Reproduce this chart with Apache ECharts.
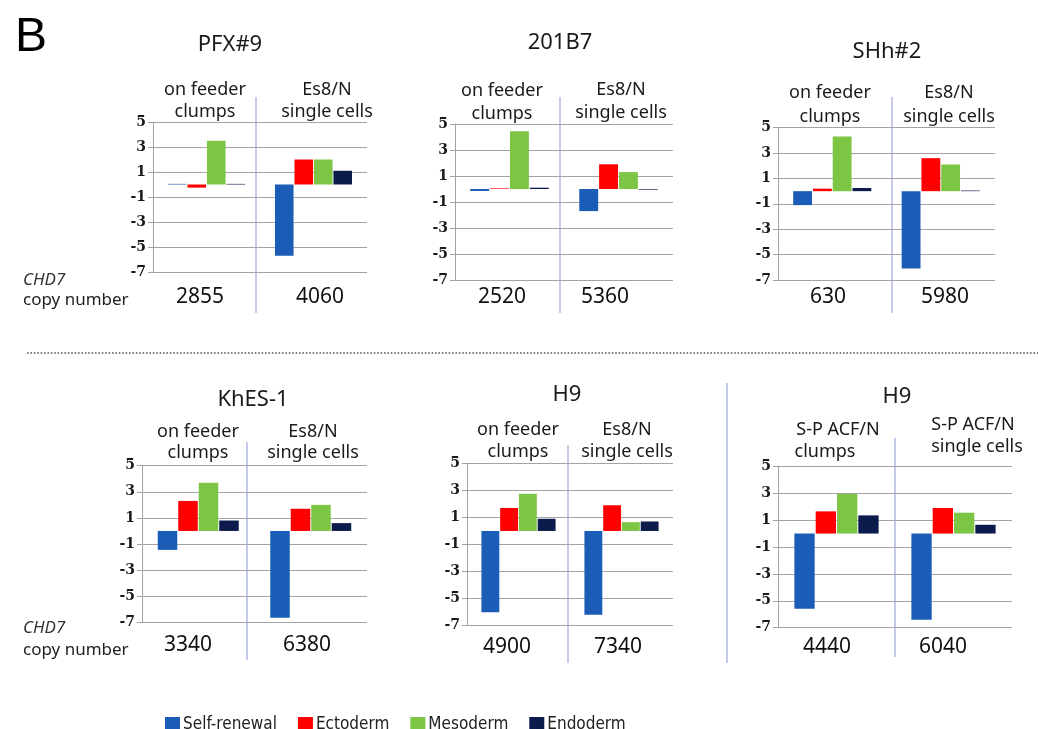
<!DOCTYPE html>
<html>
<head>
<meta charset="utf-8">
<title>CHD7 copy number and lineage marker expression</title>
<script src="https://cdn.jsdelivr.net/npm/echarts@6/dist/echarts.min.js"></script>
<style>
  html, body { margin: 0; padding: 0; background: #fff; }
  #chart { width: 1038px; height: 729px; }
</style>
</head>
<body>
<div id="chart"></div>
<script>
// ---- data ----
const lineageNames = ['Self-renewal', 'Ectoderm', 'Mesoderm', 'Endoderm'];
const panelTitles = ['PFX#9', '201B7', 'SHh#2', 'KhES-1', 'H9', 'H9'];
const conditionLabels = [
  [['on feeder', 'clumps'], ['Es8/N', 'single cells']],
  [['on feeder', 'clumps'], ['Es8/N', 'single cells']],
  [['on feeder', 'clumps'], ['Es8/N', 'single cells']],
  [['on feeder', 'clumps'], ['Es8/N', 'single cells']],
  [['on feeder', 'clumps'], ['Es8/N', 'single cells']],
  [['S-P ACF/N', 'clumps'], ['S-P ACF/N', 'single cells']]
];
const copyNumbers = [
  [2855, 4060], [2520, 5360], [630, 5980],
  [3340, 6380], [4900, 7340], [4440, 6040]
];
// one pair per panel: [clumps condition, single-cell condition]
const selfRenewal = [[0.05, -5.7], [-0.15, -1.7], [-1.1, -6.1], [-1.45, -6.65], [-6.0, -6.2], [-5.6, -6.4]];
const ectoderm    = [[-0.25, 2.0], [0.05, 1.9], [0.2, 2.6], [2.3, 1.7], [1.7, 1.9], [1.65, 1.9]];
const mesoderm    = [[3.5, 2.0], [4.45, 1.3], [4.3, 2.1], [3.7, 2.0], [2.75, 0.65], [2.95, 1.55]];
const endoderm    = [[0.05, 1.1], [0.1, -0.05], [0.25, 0.05], [0.8, 0.6], [0.9, 0.7], [1.35, 0.65]];
const yTickMin = -7, yTickMax = 5, yTickStep = 2;

// ---- styling ----
const lineageColors = ['#1a5cb6', '#ff0000', '#7dc545', '#0c1a4c'];
const lineageValues = [selfRenewal, ectoderm, mesoderm, endoderm];
const SANS = "'Noto Sans', 'Open Sans', sans-serif";
const dividerColor = '#9ea6dd';

// ---- layout of each panel (pixels) ----
const layout = [
  { grid: [153, 122, 214, 150], div: [256, 97, 313], title: [230, 45],
    sub: [[205, 90], [327, 90]], subGap: 22, num: [[200, 297], [320, 297]] },
  { grid: [455, 124, 218, 156], div: [560, 97, 313], title: [560, 43],
    sub: [[502, 91], [621, 90]], subGap: 23, num: [[502, 297], [605, 297]] },
  { grid: [778, 127.7, 217, 152.3], div: [892, 97, 313], title: [887, 52],
    sub: [[830, 93], [949, 93]], subGap: 24, num: [[828, 297], [945, 297]] },
  { grid: [142, 465.7, 225, 156.6], div: [247, 442, 660], title: [253, 400],
    sub: [[198, 432], [313, 432]], subGap: 21, num: [[188, 645], [307, 645]] },
  { grid: [467, 463.3, 206, 162.4], div: [568, 445, 663], title: [567, 395],
    sub: [[518, 430], [627, 430]], subGap: 22, num: [[507, 647], [618, 647]] },
  { grid: [778, 466.3, 234, 161.4], div: [895, 438, 657], title: [897, 397],
    sub: [[838, 430], [973, 425]], subGap: 22, num: [[827, 647], [943, 647]],
    subAlt: [[825, 452], [977, 447]] }
];

function textEl(str, x, y, font, color, align) {
  return {
    type: 'text', silent: true,
    style: {
      text: str, x: x, y: y, font: font, fill: color || '#1a1a1a',
      align: align || 'center', verticalAlign: 'middle',
      textAlign: align || 'center', textVerticalAlign: 'middle'
    }
  };
}
function lineEl(x1, y1, x2, y2, color, width, dash) {
  return {
    type: 'line', silent: true,
    shape: { x1: x1, y1: y1, x2: x2, y2: y2 },
    style: { stroke: color, lineWidth: width, lineDash: dash || null }
  };
}

const grids = [], xAxes = [], yAxes = [], series = [], graphics = [];

layout.forEach((p, i) => {
  grids.push({ left: p.grid[0], top: p.grid[1], width: p.grid[2], height: p.grid[3], containLabel: false });
  xAxes.push({
    type: 'category', gridIndex: i,
    data: conditionLabels[i].map(c => c.join(' ')),
    axisLine: { show: false }, axisTick: { show: false }, axisLabel: { show: false },
    splitLine: { show: false }
  });
  yAxes.push({
    type: 'value', gridIndex: i, min: yTickMin, max: yTickMax, interval: yTickStep,
    axisLine: { show: true, lineStyle: { color: '#a3a3a3', width: 1 } },
    axisTick: { show: true, length: 5, lineStyle: { color: '#a3a3a3' } },
    axisLabel: {
      margin: 7, fontFamily: "'DejaVu Serif', 'Liberation Serif', serif",
      fontWeight: 'bold', fontSize: 14, color: '#1a1a1a'
    },
    splitLine: { show: true, lineStyle: { color: '#a4a4a4', width: 1 } }
  });
  lineageNames.forEach((name, k) => {
    series.push({
      name: name, type: 'bar', xAxisIndex: i, yAxisIndex: i,
      data: lineageValues[k][i],
      itemStyle: { color: lineageColors[k] },
      barGap: '5%', barCategoryGap: '28%',
      animation: false
    });
  });

  // panel heading, condition labels, copy numbers and condition divider
  graphics.push(textEl(panelTitles[i], p.title[0], p.title[1], '22px ' + SANS));
  conditionLabels[i].forEach((lines, c) => {
    const [sx, sy] = p.sub[c];
    graphics.push(textEl(lines[0], sx, sy, '18px ' + SANS));
    const alt = p.subAlt ? p.subAlt[c] : [sx, sy + p.subGap];
    graphics.push(textEl(lines[1], alt[0], alt[1], '18px ' + SANS));
    graphics.push(textEl(String(copyNumbers[i][c]), p.num[c][0], p.num[c][1], '21px ' + SANS, '#111'));
  });
  graphics.push(lineEl(p.div[0], p.div[1], p.div[0], p.div[2], dividerColor, 1.2));
});

// figure letter, row captions, separators
graphics.push(textEl('B', 15, 38, '48px ' + "'Liberation Sans', Arial, sans-serif", '#000', 'left'));
graphics.push(textEl('CHD7', 23, 280, 'italic 17px ' + SANS, '#333', 'left'));
graphics.push(textEl('copy number', 23, 300, '17px ' + SANS, '#222', 'left'));
graphics.push(textEl('CHD7', 23, 628, 'italic 17px ' + SANS, '#333', 'left'));
graphics.push(textEl('copy number', 23, 650, '17px ' + SANS, '#222', 'left'));
graphics.push(lineEl(27, 353, 1038, 353, '#555', 1.6, [1.6, 1.8]));
graphics.push(lineEl(727, 383, 727, 663, dividerColor, 1.2));

const chart = echarts.init(document.getElementById('chart'), null, { renderer: 'canvas' });
chart.setOption({
  backgroundColor: '#fff',
  animation: false,
  grid: grids,
  xAxis: xAxes,
  yAxis: yAxes,
  series: series,
  legend: {
    data: lineageNames,
    left: 160, top: 711,
    icon: 'rect', itemWidth: 15, itemHeight: 15, itemGap: 21,
    textStyle: {
      fontFamily: "'Liberation Sans Narrow', 'DejaVu Sans Condensed', 'Roboto', sans-serif",
      fontSize: 17, color: '#222', padding: [0, 0, 0, -2]
    },
    selectedMode: false
  },
  graphic: graphics
});
</script>
</body>
</html>
